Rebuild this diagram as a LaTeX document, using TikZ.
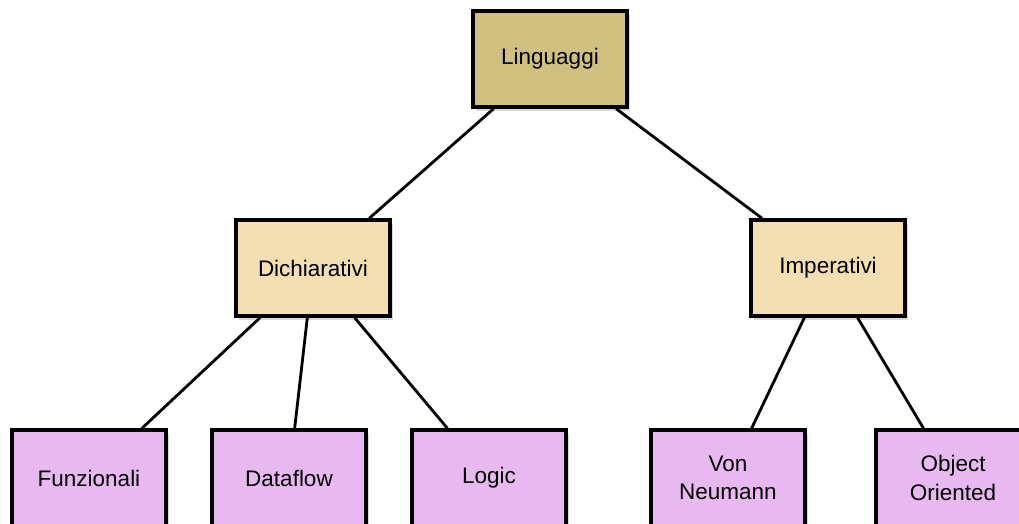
\documentclass[tikz,border=0pt]{standalone}
\usepackage{fontspec}
\setmainfont{Liberation Sans}
\usetikzlibrary{shadows}
\definecolor{rootfill}{RGB}{208,192,128}
\definecolor{midfill}{RGB}{243,223,178}
\definecolor{leaffill}{RGB}{232,184,240}
\begin{document}
\begin{tikzpicture}[
    box/.style={rectangle, draw, line width=2.4pt, minimum width=3.85cm, minimum height=2.4cm,
        align=center, font=\fontsize{16}{20}\selectfont,
        drop shadow={opacity=0.3, shadow xshift=0.08cm, shadow yshift=-0.1cm}},
    link/.style={line width=2pt}
]
\useasboundingbox (0,0) rectangle (25.475,-13.1);
% Root
\node[box, fill=rootfill] (ling) at (13.75,-1.475) {Linguaggi};

% Middle
\node[box, fill=midfill] (dich) at (7.825,-6.7) {Dichiarativi};
\node[box, fill=midfill] (imp) at (20.7,-6.7) {Imperativi};

% Leaves
\node[box, fill=leaffill] (funz) at (2.225,-11.95) {Funzionali};
\node[box, fill=leaffill] (flow) at (7.225,-11.95) {Dataflow};
\node[box, fill=leaffill] (logic) at (12.225,-11.95) {Logic};
\node[box, fill=leaffill] (vonn) at (18.2,-11.95) {Von\\Neumann};
\node[box, fill=leaffill] (obj) at (23.825,-11.95) {Object\\Oriented};

% Links
\draw[link] (ling) -- (dich);
\draw[link] (ling) -- (imp);
\draw[link] (dich) -- (funz);
\draw[link] (dich) -- (flow);
\draw[link] (dich) -- (logic);
\draw[link] (imp) -- (vonn);
\draw[link] (imp) -- (obj);
\end{tikzpicture}
\end{document}
